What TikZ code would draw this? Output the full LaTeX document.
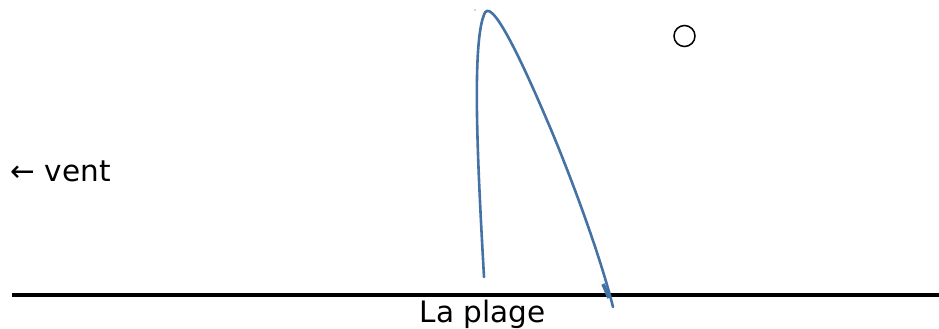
\documentclass[tikz,border=0pt]{standalone}
\usepackage{fontspec}
\setmainfont{DejaVu Sans}
\definecolor{traj}{RGB}{68,114,164}
\begin{document}
\begin{tikzpicture}[x=1pt,y=-1pt,
  lbl/.style={inner sep=0pt,font=\fontsize{29.5}{35}\selectfont},
  trajline/.style={draw=traj,line width=2.6pt,line cap=round,line join=round}]
\useasboundingbox (0,0) rectangle (939,329);
\coordinate (gl) at (12,295);
\coordinate (gr) at (939,295);
\draw[line width=3.4pt] (gl) -- (gr);
\node[lbl,anchor=base] (plage) at (482.5,322.5) {La plage};
\node[lbl,anchor=base west] (vent) at (10.5,181) {← vent};
\node[draw,circle,line width=1.5pt,minimum size=21pt,inner sep=0pt] (ball) at (684.5,36) {};
\coordinate (start) at (484,277);
\coordinate (finish) at (613,307);
\draw[trajline] (start) .. controls (478,170) and (471,40) .. (485,12.5)
  .. controls (494,-2) and (530,80) .. (552,132)
  .. controls (572,180) and (600,255) .. (finish);
\draw[draw=traj,line width=3.6pt] (603,284) -- (609,298);
\fill[traj!60] (475,10) circle (0.8pt);
\end{tikzpicture}
\end{document}
